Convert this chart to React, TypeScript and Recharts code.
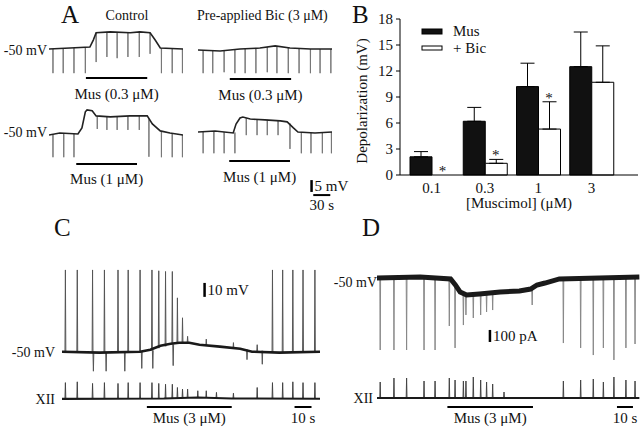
import React from 'react';
import {
  ComposedChart, Bar, ErrorBar, XAxis, YAxis, Label, ReferenceDot,
  LineChart, Line, ReferenceLine,
} from 'recharts';

// ---- panel B: depolarization vs muscimol ----
const CONC = ['0.1', '0.3', '1', '3'];
const MUS_MEAN = [2.1, 6.2, 10.2, 12.5];
const MUS_SEM = [0.6, 1.6, 2.7, 4.0];
const BIC_MEAN = [0, 1.35, 5.3, 10.7];
const BIC_SEM = [0, 0.45, 3.15, 4.2];
const BIC_SIG = [true, true, true, false];
const SERIES_NAMES = ['Mus', '+ Bic'];
const Y_TICKS = [0, 3, 6, 9, 12, 15, 18];

// ---- traces: [t (s), value] and spikes [t, base, tip] ----
type Pt = [number, number];
type Spike = [number, number, number];

const A_CTRL_03: Pt[] = [[0, -50], [37, -49.6], [72, -49.2], [78, -46.3], [83, -43.3], [108, -42.9], [143, -43.3], [160, -42.9], [178, -43.3], [187, -46.3], [196, -49.6], [236, -50]];
const A_CTRL_03_SPK: Spike[] = [[7, -50, -60], [25, -49.8, -60], [44, -49.6, -60], [64, -49.4, -60], [83, -43.3, -55.4], [102, -42.9, -53.3], [120, -43, -53.8], [139, -43.2, -53.3], [159, -42.9, -53.3], [178, -43.3, -52], [198, -49.7, -60], [217, -49.9, -60], [235, -50, -60]];
const A_CTRL_1: Pt[] = [[0, -50], [19, -49.2], [51, -49.6], [58, -47.1], [64, -40.4], [67, -39.6], [76, -40], [83, -42.1], [108, -42.5], [143, -42.1], [173, -42.1], [182, -45.4], [196, -48.3], [213, -49.2], [236, -50]];
const A_CTRL_1_SPK: Spike[] = [[7, -50, -59.2], [26, -49.3, -59.2], [44, -49.5, -59.2], [85, -42.2, -47.5], [102, -42.5, -47.9], [120, -42.4, -47.9], [139, -42.2, -47.9], [159, -42.1, -47.9], [176, -43.5, -59], [198, -48.5, -59.2], [217, -49.3, -59.2], [235, -50, -59.2]];
const A_BIC_03: Pt[] = [[0, -50], [39, -50.4], [74, -49.6], [109, -49.2], [136, -48.3], [162, -49.2], [198, -49.6], [236, -49.6]];
const A_BIC_03_SPK: Spike[] = [[9, -50, -59.6], [26, -50.2, -59.6], [46, -50, -59.2], [65, -49.7, -59.6], [83, -49.5, -59.6], [102, -49.3, -59.6], [122, -48.8, -59.2], [139, -48.4, -59.6], [159, -49.1, -59.6], [178, -49.4, -59.6], [198, -49.6, -59.6], [215, -49.6, -59.6], [234, -49.6, -59.6]];
const A_BIC_1: Pt[] = [[0, -50], [30, -49.6], [62, -50.4], [67, -46.7], [74, -44.2], [79, -43.8], [92, -44.6], [118, -45], [145, -45.4], [157, -45.8], [168, -48.3], [176, -50], [206, -50.4], [236, -50]];
const A_BIC_1_SPK: Spike[] = [[9, -50, -58.8], [28, -49.7, -58.8], [46, -50, -58.8], [65, -50.2, -58.8], [85, -44.2, -51.3], [104, -44.7, -51.3], [122, -45, -51.3], [141, -45.3, -51.3], [162, -46.5, -57], [182, -50.1, -58.8], [199, -50.3, -58.8], [219, -50.3, -58.8], [235, -50, -58.8]];

const C_VM: Pt[] = [[0, -50], [22, -50.7], [46, -50], [52, -48.6], [58, -45.7], [64, -44.3], [69, -43.6], [75, -43.6], [81, -45], [93, -46.4], [105, -47.9], [112, -50], [128, -50.7], [152, -50]];
const C_VM_SPK: Spike[] = [
  [2, -50, 8.6], [9, -50.3, 8.6], [18, -50.5, 8.6], [25, -50.7, 8.6], [33, -50.5, 8.6], [39, -50.3, 8.6],
  [46, -50, 8.6], [53, -49.2, 8.6], [57, -47.5, 8], [61, -46.2, 7.5], [65, -44.8, 7.5], [68, -44, -11.4], [71, -43.8, -25.7],
  [124, -50.6, 8.6], [130, -50.5, 8.6], [136, -50.3, 8.6], [142, -50.2, 8.6], [149, -50, 8.6],
  [18.5, -50.5, -64], [26, -50.7, -64], [37, -50.4, -64], [47, -50, -62], [53.5, -49, -62], [65.5, -44.8, -60], [109, -48.5, -55.7], [118, -49.3, -59],
  [74, -43.6, -39], [85, -45.3, -41], [101, -47.8, -43.5], [115, -49.5, -45],
];
const C_XII: Pt[] = [[0, 0], [60, 0.02], [80, 0.08], [100, 0.03], [152, 0]];
const C_XII_SPK: Spike[] = [
  [2, 0, 1], [9, 0, 1.05], [18, 0, 0.95], [25, 0, 1], [33, 0, 0.95], [39, 0, 1], [46, 0, 1], [53, 0, 1], [57, 0.02, 0.95],
  [61, 0.03, 0.9], [65, 0.05, 0.9], [68, 0.06, 0.7], [71, 0.07, 0.6], [74, 0.08, 0.6], [80, 0.08, 0.5], [85, 0.07, 0.5],
  [91, 0.05, 0.4], [101, 0.03, 0.35], [115, 0, 0.7], [124, 0, 1], [130, 0, 1], [136, 0, 1.05], [142, 0, 1], [149, 0, 1],
];

const D_IM: Pt[] = [[0, 0], [27, 8], [46, -8], [49, -58], [52, -117], [56, -142], [64, -133], [77, -117], [89, -108], [96, -92], [100, -58], [105, -42], [114, -8], [139, 0], [164, 8]];
const D_IM_SPK: Spike[] = [
  [2, 0, -600], [10.6, 5, -600], [18.5, 5, -600], [29.4, 3, -600], [36.3, 0, -600], [45.2, -5, -400], [48.8, -50, -583],
  [54, -130, -392], [55.6, -140, -308], [60.2, -133, -333], [64.8, -133, -308], [68.5, -125, -283], [72.3, -120, -267], [97, -90, -225],
  [116.5, -10, -542], [127.3, 0, -583], [135.2, 0, -642], [141.5, 0, -583], [148.1, 0, -683], [155.6, 3, -583], [161.3, 5, -550],
];
const D_XII: Pt[] = [[0, 0], [164, 0]];
const D_XII_SPK: Spike[] = [
  [2, 0, 0.8], [10.6, 0, 1], [18.5, 0, 1], [29.4, 0, 0.85], [36.3, 0, 0.85], [45.2, 0, 1], [48.8, 0, 0.9], [54, 0, 0.85],
  [55.6, 0, 0.85], [60.2, 0, 1.05], [64.8, 0, 0.9], [68.5, 0, 0.8], [72.3, 0, 0.7], [79.4, 0, 0.3],
  [116.5, 0, 0.85], [127.3, 0, 0.9], [135.2, 0, 0.95], [141.5, 0, 0.8], [148.1, 0, 1.05], [155.6, 0, 0.9], [161.3, 0, 0.85],
];

// drug application periods [on, off] (s) and scale bars
const MUS_A = { ctrl03: [65, 173], ctrl1: [48, 155], bic03: [56, 164], bic1: [55, 162] };
const MUS_C = [50, 100];
const MUS_D = [44, 97.5];
const BAR_10S_C = [137, 147];
const BAR_10S_D = [150, 160];

const INK = '#111';
const FONT = '"Liberation Serif", "Times New Roman", serif';
const MU = '\u03bc';

function spikeRows(sp: Spike[], w: number) {
  const rows: { t: number; v: number | null }[] = [];
  [...sp].sort((a, b) => a[0] - b[0]).forEach(([t, b, tip]) => {
    rows.push({ t: t - w, v: b }, { t, v: tip }, { t: t + w, v: b }, { t: t + w * 1.1, v: null });
  });
  return rows;
}

type TraceProps = {
  left: number; top: number; width: number; height: number;
  xDom: [number, number]; yDom: [number, number];
  base: Pt[]; spikes: Spike[];
  baseColor?: string; baseWidth?: number; spikeColor?: string;
  mb?: number; mr?: number;
  children?: React.ReactNode;
};

const Trace = ({ left, top, width, height, xDom, yDom, base, spikes, baseColor = '#222', baseWidth = 1.6, spikeColor = '#777', mb = 0, mr = 0, children }: TraceProps) => (
  <div style={{ position: 'absolute', left, top }}>
    <LineChart width={width + mr} height={height + mb} margin={{ top: 0, right: mr, bottom: mb, left: 0 }}>
      <XAxis type="number" dataKey="t" domain={xDom} hide allowDataOverflow />
      <YAxis type="number" domain={yDom} hide allowDataOverflow />
      <Line data={spikeRows(spikes, 0.25)} dataKey="v" type="linear" dot={false} stroke={spikeColor} strokeWidth={1} isAnimationActive={false} />
      <Line data={base.map(([t, v]) => ({ t, v }))} dataKey="v" type="linear" dot={false} stroke={baseColor} strokeWidth={baseWidth} isAnimationActive={false} />
      {children}
    </LineChart>
  </div>
);

const hbar = (range: number[], y: number, text: string, key: string, offset = 8) => (
  <ReferenceLine
    key={key}
    segment={[{ x: range[0], y }, { x: range[1], y }]}
    stroke="#000"
    strokeWidth={2}
    ifOverflow="visible"
    label={{ value: text, position: 'bottom', offset, fontSize: 15, fill: INK }}
  />
);

const vbar = (t: number, lo: number, hi: number, text: string, key: string) => (
  <ReferenceLine
    key={key}
    segment={[{ x: t, y: lo }, { x: t, y: hi }]}
    stroke="#000"
    strokeWidth={2.5}
    ifOverflow="visible"
    label={{ value: text, position: 'right', offset: 3, fontSize: 15, fill: INK }}
  />
);

const A_X: [number, number] = [0, 236];
const A_Y: [number, number] = [-62, -38];

const Star = (p: any) => (
  <text x={p.cx + 10.75} y={p.cy + 1} textAnchor="middle" fill={INK} stroke="none" fontSize={15}>*</text>
);

export default function App() {
  const barRows = CONC.map((c, i) => ({
    conc: c,
    mus: MUS_MEAN[i],
    bic: BIC_MEAN[i],
    musErr: [0, MUS_SEM[i]],
    bicErr: [0, BIC_SEM[i]],
  }));

  return (
    <div style={{ position: 'absolute', left: 0, top: 0, width: 640, height: 428, background: '#fff', fontFamily: FONT, color: INK, overflow: 'hidden' }}>
      <style>{`svg text { font-family: "Liberation Serif", "Times New Roman", serif !important; }`}</style>
      {/* A */}
      <Trace left={49} top={20} width={134} height={58} xDom={A_X} yDom={A_Y} base={A_CTRL_03} spikes={A_CTRL_03_SPK} mb={32}>
        {hbar(MUS_A.ctrl03, -62, `Mus (0.3 ${MU}M)`, 'm1', 10)}
      </Trace>
      <Trace left={49} top={106} width={134} height={58} xDom={A_X} yDom={A_Y} base={A_CTRL_1} spikes={A_CTRL_1_SPK} mb={32}>
        {hbar(MUS_A.ctrl1, -62, `Mus (1 ${MU}M)`, 'm2', 9)}
      </Trace>
      <Trace left={198} top={21} width={134} height={58} xDom={A_X} yDom={A_Y} base={A_BIC_03} spikes={A_BIC_03_SPK} mb={32}>
        {hbar(MUS_A.bic03, -62, `Mus (0.3 ${MU}M)`, 'm3', 10)}
      </Trace>
      <Trace left={198} top={103} width={134} height={58} xDom={A_X} yDom={A_Y} base={A_BIC_1} spikes={A_BIC_1_SPK} mb={60} mr={26}>
        {hbar(MUS_A.bic1, -62, `Mus (1 ${MU}M)`, 'm4', 10)}
        {vbar(200, -74.8, -69.9, '5 mV', 's1')}
        {hbar([203, 233], -76.1, '30 s', 's2', 4)}
      </Trace>

      {/* C */}
      <Trace left={62} top={268} width={258} height={106} xDom={[0, 152]} yDom={[-66, 10]} base={C_VM} spikes={C_VM_SPK} baseColor="#1a1a1a" baseWidth={2.6} spikeColor="#555">
        {vbar(84, -10.7, -0.7, '10 mV', 's3')}
      </Trace>
      <Trace left={62} top={381} width={258} height={26} xDom={[0, 152]} yDom={[-0.5, 1.1]} base={C_XII} spikes={C_XII_SPK} baseColor="#1a1a1a" baseWidth={2} spikeColor="#444" mb={22}>
        {hbar(MUS_C, -0.5, `Mus (3 ${MU}M)`, 'm5', 5)}
        {hbar(BAR_10S_C, -0.5, '10 s', 's4', 5)}
      </Trace>

      {/* D */}
      <Trace left={377} top={266} width={263} height={96} xDom={[0, 164.4]} yDom={[-700, 100]} base={D_IM} spikes={D_IM_SPK} baseColor="#1a1a1a" baseWidth={5} spikeColor="#888">
        {vbar(70.6, -533, -433, '100 pA', 's5')}
      </Trace>
      <Trace left={377} top={376} width={263} height={31} xDom={[0, 164.4]} yDom={[-0.45, 1.1]} base={D_XII} spikes={D_XII_SPK} baseColor="#1a1a1a" baseWidth={2} spikeColor="#444" mb={22}>
        {hbar(MUS_D, -0.45, `Mus (3 ${MU}M)`, 'm6', 5)}
        {hbar(BAR_10S_D, -0.45, '10 s', 's6', 5)}
      </Trace>

      {/* B */}
      <div style={{ position: 'absolute', left: 330, top: 0 }}>
        <ComposedChart width={310} height={215} data={barRows} margin={{ top: 19, right: 2, bottom: 0, left: 20 }} barCategoryGap={5} barGap={0}>
          <XAxis dataKey="conc" height={40} padding={{ left: 5, right: 20 }} tickLine={false} axisLine={{ stroke: '#000' }} tick={{ fill: INK, fontSize: 15 }} tickMargin={1}>
            <Label value={`[Muscimol] (${MU}M)`} position="insideBottom" offset={7} fill={INK} fontSize={15} />
          </XAxis>
          <YAxis domain={[0, 18]} ticks={Y_TICKS} width={50} tickSize={4} tickMargin={3} axisLine={{ stroke: '#000' }} tickLine={{ stroke: '#000' }} tick={{ fill: INK, fontSize: 15 }}>
            <Label
              content={(p: any) => {
                const vb = p.viewBox;
                const cx = vb.x + 12;
                const cy = vb.y + vb.height / 2 + 4;
                return (
                  <text x={cx} y={cy} transform={`rotate(-90, ${cx}, ${cy})`} textAnchor="middle" dominantBaseline="central" fill={INK} fontSize={15}>
                    Depolarization (mV)
                  </text>
                );
              }}
            />
          </YAxis>
          <Bar dataKey="mus" name={SERIES_NAMES[0]} fill="#111" stroke="#000" isAnimationActive={false}>
            <ErrorBar dataKey="musErr" width={7} stroke="#000" strokeWidth={1} direction="y" />
          </Bar>
          <Bar dataKey="bic" name={SERIES_NAMES[1]} fill="#fff" stroke="#000" isAnimationActive={false}>
            <ErrorBar dataKey="bicErr" width={7} stroke="#000" strokeWidth={1} direction="y" />
          </Bar>
          {CONC.map((c, i) =>
            BIC_SIG[i] ? (
              <ReferenceDot key={c} x={c} y={BIC_MEAN[i] + BIC_SEM[i]} r={0} ifOverflow="visible" shape={Star} />
            ) : null
          )}
        </ComposedChart>
      </div>

      {/* static labels */}
      <svg width={640} height={428} style={{ position: 'absolute', left: 0, top: 0, pointerEvents: 'none' }}>
        <g fill={INK} fontSize={14}>
          <text x={61} y={23} fontSize={25}>A</text>
          <text x={127} y={15} textAnchor="middle" dominantBaseline="central">Control</text>
          <text x={197} y={15} dominantBaseline="central">Pre-applied Bic (3 {MU}M)</text>
          <text x={47} y={50} textAnchor="end" dominantBaseline="central">-50 mV</text>
          <text x={47} y={132} textAnchor="end" dominantBaseline="central">-50 mV</text>

          <text x={352} y={23} fontSize={25}>B</text>
          <rect x={422} y={29} width={20} height={5} fill="#111" stroke="#000" />
          <rect x={422} y={46} width={20} height={4} fill="#fff" stroke="#000" />
          <text x={453} y={31} dominantBaseline="central" fontSize={15}>{SERIES_NAMES[0]}</text>
          <text x={453} y={48} dominantBaseline="central" fontSize={15}>{SERIES_NAMES[1]}</text>

          <text x={54} y={236} fontSize={25}>C</text>
          <text x={55} y={352} textAnchor="end" dominantBaseline="central">-50 mV</text>
          <text x={55} y={399} textAnchor="end" dominantBaseline="central">XII</text>

          <text x={362} y={236} fontSize={25}>D</text>
          <text x={377} y={282} textAnchor="end" dominantBaseline="central">-50 mV</text>
          <text x={373} y={398} textAnchor="end" dominantBaseline="central">XII</text>
        </g>
      </svg>
    </div>
  );
}
